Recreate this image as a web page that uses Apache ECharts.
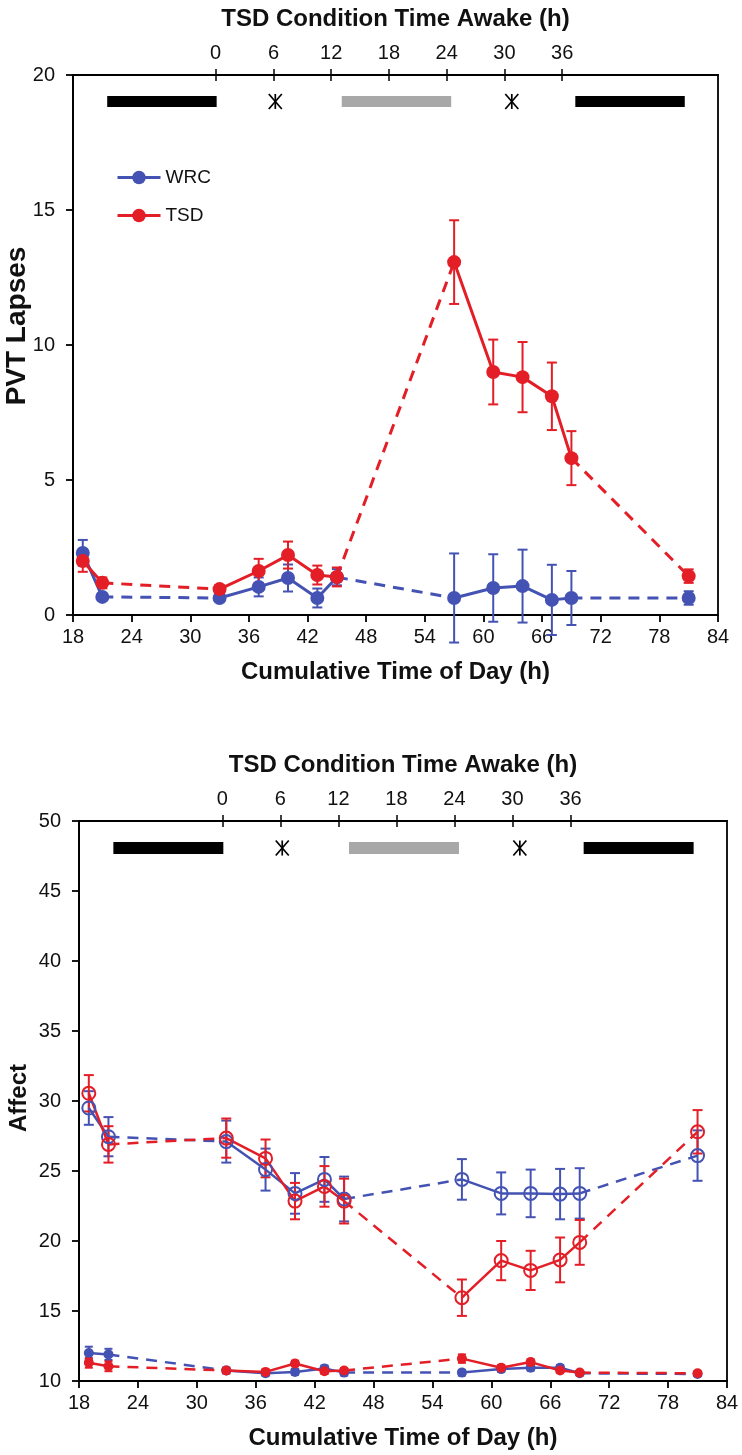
<!DOCTYPE html>
<html>
<head>
<meta charset="utf-8">
<script src="https://cdn.jsdelivr.net/npm/echarts@6/dist/echarts.min.js"></script>
<style>
  html, body { margin: 0; padding: 0; background: #fff; }
  #chart { width: 742px; height: 1455px; }
</style>
</head>
<body>
<div id="chart"></div>
<script>
  // cumulative time of day (h) of each test session
  var times = [19, 21, 33, 37, 40, 43, 45, 57, 61, 64, 67, 69, 81];
  // sessions joined by solid lines (index ranges), dashed between them
  var blocks = [[0, 1], [2, 6], [7, 11], [12, 12]];

  // PVT lapses
  var lapsesWRC = [2.3, 0.67, 0.63, 1.04, 1.37, 0.63, 1.4, 0.63, 1.0, 1.07, 0.56, 0.63, 0.63];
  var lapsesWRCErr = [0.48, 0.12, 0.1, 0.35, 0.5, 0.35, 0.3, 1.65, 1.25, 1.35, 1.3, 1.0, 0.25];
  var lapsesTSD = [2.0, 1.19, 0.96, 1.63, 2.22, 1.48, 1.41, 13.07, 9.0, 8.81, 8.1, 5.81, 1.44];
  var lapsesTSDErr = [0.4, 0.2, 0.15, 0.45, 0.5, 0.35, 0.35, 1.55, 1.2, 1.3, 1.25, 1.0, 0.25];

  // affect (open = upper scale, filled = lower scale)
  var posWRC = [29.5, 27.45, 27.1, 25.1, 23.4, 24.4, 23.0, 24.4, 23.4, 23.4, 23.35, 23.4, 26.1];
  var posWRCErr = [1.2, 1.4, 1.5, 1.5, 1.45, 1.6, 1.6, 1.45, 1.5, 1.7, 1.8, 1.8, 1.8];
  var posTSD = [30.55, 26.9, 27.35, 25.9, 22.85, 23.9, 22.85, 15.95, 18.6, 17.9, 18.65, 19.9, 27.8];
  var posTSDErr = [1.3, 1.3, 1.4, 1.35, 1.3, 1.45, 1.6, 1.3, 1.4, 1.4, 1.6, 1.6, 1.55];
  var negWRC = [12.0, 11.9, 10.75, 10.55, 10.65, 10.9, 10.6, 10.6, 10.85, 10.95, 10.95, 10.55, 10.5];
  var negWRCErr = [0.45, 0.4, 0.2, 0.2, 0.2, 0.2, 0.2, 0.2, 0.2, 0.2, 0.2, 0.15, 0.15];
  var negTSD = [11.3, 11.05, 10.75, 10.65, 11.25, 10.7, 10.75, 11.6, 10.95, 11.35, 10.75, 10.6, 10.55];
  var negTSDErr = [0.35, 0.35, 0.2, 0.15, 0.2, 0.2, 0.15, 0.3, 0.2, 0.2, 0.15, 0.1, 0.15];

  // top axis: TSD condition time awake
  var awakeTicks = [0, 6, 12, 18, 24, 30, 36];
  var wakeOnset = 32.6;
  var awakeScale = 0.985;

  // header marks
  var blackPeriods = [[21.5, 32.7], [69.4, 80.6]];
  var grayPeriods = [[45.5, 56.7]];
  var asteriskTimes = [38.7, 62.9];

  var BLUE = '#4453b3';
  var RED = '#e31e26';
  var FONT = 'Liberation Sans, Arial, sans-serif';

  var awakePos = awakeTicks.map(function (t) { return wakeOnset + t * awakeScale; });

  function solidData(vals) {
    var out = [];
    blocks.forEach(function (b, k) {
      if (k > 0) out.push([(times[b[0]] + times[b[0] - 1]) / 2, '-']);
      for (var i = b[0]; i <= b[1]; i++) out.push([times[i], vals[i]]);
    });
    return out;
  }
  function dashedData(vals) {
    var out = [];
    for (var k = 1; k < blocks.length; k++) {
      var a = blocks[k - 1][1], b = blocks[k][0];
      if (k > 1) out.push([(times[a] + times[blocks[k - 1][0]]) / 2, '-']);
      out.push([times[a], vals[a]], [times[b], vals[b]]);
    }
    return out;
  }
  function errRender(color, cap) {
    return function (params, api) {
      var x = api.value(0), y = api.value(1), e = api.value(2);
      var hi = api.coord([x, y + e]), lo = api.coord([x, y - e]);
      var st = { stroke: color, lineWidth: 2 };
      return {
        type: 'group', children: [
          { type: 'line', shape: { x1: hi[0], y1: hi[1], x2: lo[0], y2: lo[1] }, style: st },
          { type: 'line', shape: { x1: hi[0] - cap, y1: hi[1], x2: hi[0] + cap, y2: hi[1] }, style: st },
          { type: 'line', shape: { x1: lo[0] - cap, y1: lo[1], x2: lo[0] + cap, y2: lo[1] }, style: st }
        ]
      };
    };
  }

  // one group = error bars + dashed joins + solid line with markers
  function group(name, gi, vals, errs, color, sym) {
    var item = sym.open
      ? { color: 'rgba(255,255,255,0)', borderColor: color, borderWidth: 2 }
      : { color: color };
    return [{
      type: 'custom', name: name + ' err', xAxisIndex: gi * 3, yAxisIndex: gi,
      renderItem: errRender(color, sym.cap),
      encode: { x: 0, y: 1 },
      data: times.map(function (t, i) { return [t, vals[i], errs[i]]; }),
      silent: true, z: 2
    }, {
      type: 'line', name: name + ' gap', xAxisIndex: gi * 3, yAxisIndex: gi,
      data: dashedData(vals), showSymbol: false, connectNulls: false,
      lineStyle: { color: color, width: sym.lw, type: [11, 8] }, z: 2
    }, {
      type: 'line', name: name, xAxisIndex: gi * 3, yAxisIndex: gi,
      data: solidData(vals), connectNulls: false,
      symbol: 'circle', symbolSize: sym.size, showSymbol: true,
      itemStyle: item,
      lineStyle: { color: color, width: sym.lw }, z: 3
    }];
  }

  function headerSeries(gi, level, barH) {
    var periods = blackPeriods.concat(grayPeriods);
    return [{
      type: 'custom', xAxisIndex: gi * 3, yAxisIndex: gi, silent: true,
      encode: { x: [0, 1] },
      data: periods,
      renderItem: function (params, api) {
        var a = api.coord([api.value(0), level]), b = api.coord([api.value(1), level]);
        var fill = params.dataIndex < blackPeriods.length ? '#000' : '#a8a8a8';
        return { type: 'rect', shape: { x: a[0], y: a[1] - barH / 2, width: b[0] - a[0], height: barH },
          style: { fill: fill } };
      }
    }, {
      type: 'custom', xAxisIndex: gi * 3, yAxisIndex: gi, silent: true,
      encode: { x: 0 },
      data: asteriskTimes.map(function (t) { return [t]; }),
      renderItem: function (params, api) {
        var c = api.coord([api.value(0), level]);
        var st = { stroke: '#000', lineWidth: 1.7 };
        var h = 7.5, w = 6.5;
        return { type: 'group', children: [
          { type: 'line', shape: { x1: c[0], y1: c[1] - h, x2: c[0], y2: c[1] + h }, style: st },
          { type: 'line', shape: { x1: c[0] - w, y1: c[1] - h, x2: c[0] + w, y2: c[1] + h }, style: st },
          { type: 'line', shape: { x1: c[0] + w, y1: c[1] - h, x2: c[0] - w, y2: c[1] + h }, style: st }
        ] };
      }
    }];
  }

  var tickFont = { color: '#111', fontSize: 20, fontFamily: FONT };
  var titleFont = { color: '#111', fontSize: 24, fontWeight: 'bold', fontFamily: FONT };
  var blackLine = { show: true, lineStyle: { color: '#000', width: 1.8 } };

  function xAxes(gi) {
    return [{
      gridIndex: gi, type: 'value', position: 'bottom', min: 18, max: 84, interval: 6,
      axisLine: blackLine, axisTick: { show: true, length: 7, lineStyle: { color: '#000', width: 1.8 } },
      axisLabel: Object.assign({ margin: 12 }, tickFont), splitLine: { show: false },
      name: 'Cumulative Time of Day (h)', nameLocation: 'middle', nameGap: 45, nameTextStyle: titleFont
    }, {
      gridIndex: gi, type: 'value', position: 'top', min: 18, max: 84,
      axisLine: blackLine,
      axisTick: { show: true, length: 6, customValues: awakePos, lineStyle: { color: '#000', width: 1.5 } },
      axisLabel: Object.assign({ margin: 12, customValues: awakePos,
        formatter: function (v) { return String(Math.round((v - wakeOnset) / awakeScale)); } }, tickFont),
      splitLine: { show: false },
      name: 'TSD Condition Time Awake (h)', nameLocation: 'middle', nameGap: 44, nameTextStyle: titleFont
    }, {
      gridIndex: gi, type: 'value', position: 'top', min: 18, max: 84,
      axisLine: { show: false },
      axisTick: { show: true, inside: true, length: 6, customValues: awakePos, lineStyle: { color: '#000', width: 1.5 } },
      axisLabel: { show: false }, splitLine: { show: false }
    }];
  }

  var chart = echarts.init(document.getElementById('chart'), null, { renderer: 'canvas' });
  chart.setOption({
    animation: false,
    backgroundColor: '#fff',
    grid: [
      { left: 73, top: 75, width: 645, height: 540, show: true, borderColor: '#000', borderWidth: 1.8,
        containLabel: false, outerBoundsMode: 'none' },
      { left: 79, top: 821, width: 648, height: 560, show: true, borderColor: '#000', borderWidth: 1.8,
        containLabel: false, outerBoundsMode: 'none' }
    ],
    xAxis: xAxes(0).concat(xAxes(1)),
    yAxis: [{
      gridIndex: 0, type: 'value', min: 0, max: 20, interval: 5,
      axisLine: blackLine, axisTick: { show: true, length: 7, lineStyle: { color: '#000', width: 1.8 } },
      axisLabel: Object.assign({ margin: 18 }, tickFont), splitLine: { show: false }
    }, {
      gridIndex: 1, type: 'value', min: 10, max: 50, interval: 5,
      axisLine: blackLine, axisTick: { show: true, length: 7, lineStyle: { color: '#000', width: 1.8 } },
      axisLabel: Object.assign({ margin: 18 }, tickFont), splitLine: { show: false }
    }],
    graphic: [{
      type: 'text', x: 17, y: 326, rotation: Math.PI / 2,
      style: { text: 'PVT Lapses', fill: '#111', font: 'bold 28px Liberation Sans, Arial, sans-serif',
        align: 'center', verticalAlign: 'middle' }
    }, {
      type: 'text', x: 19, y: 1098, rotation: Math.PI / 2,
      style: { text: 'Affect', fill: '#111', font: 'bold 24px Liberation Sans, Arial, sans-serif',
        align: 'center', verticalAlign: 'middle' }
    }],
    legend: {
      data: ['WRC', 'TSD'], orient: 'vertical', left: 111, top: 163,
      itemWidth: 43, itemHeight: 17, itemGap: 19,
      lineStyle: { width: 3 },
      textStyle: { fontSize: 19, color: '#111', fontFamily: FONT }
    },
    series: [].concat(
      headerSeries(0, 19.02, 11),
      group('WRC', 0, lapsesWRC, lapsesWRCErr, BLUE, { size: 14, lw: 3, cap: 5 }),
      group('TSD', 0, lapsesTSD, lapsesTSDErr, RED, { size: 14, lw: 3, cap: 5 }),
      headerSeries(1, 48.07, 12),
      group('WRC affect+', 1, posWRC, posWRCErr, BLUE, { size: 13, lw: 2.5, cap: 5, open: true }),
      group('TSD affect+', 1, posTSD, posTSDErr, RED, { size: 13, lw: 2.5, cap: 5, open: true }),
      group('WRC affect-', 1, negWRC, negWRCErr, BLUE, { size: 10, lw: 2.5, cap: 4 }),
      group('TSD affect-', 1, negTSD, negTSDErr, RED, { size: 10, lw: 2.5, cap: 4 })
    )
  });
</script>
</body>
</html>
